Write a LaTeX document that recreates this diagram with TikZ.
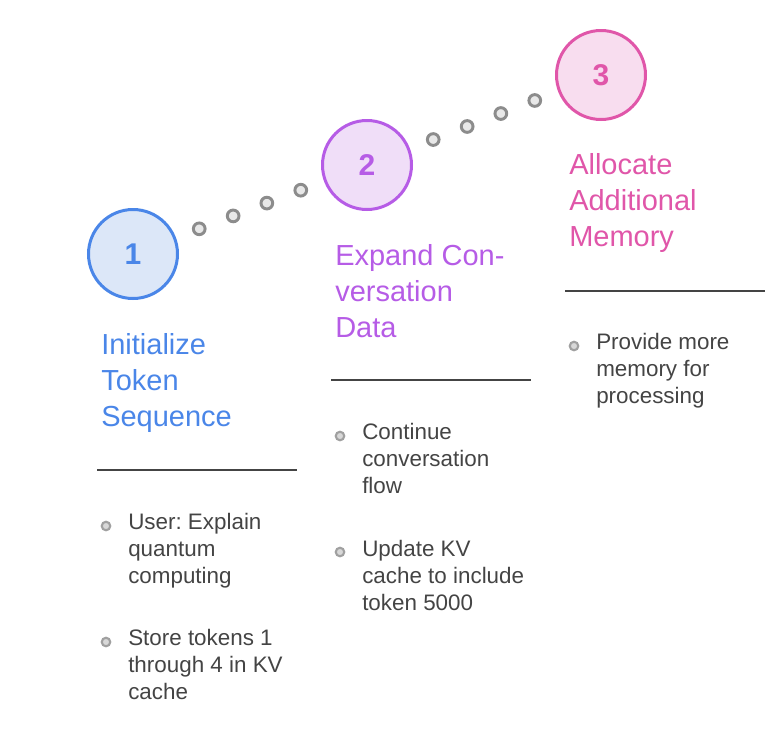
\documentclass[tikz,border=0pt]{standalone}
\usepackage{fontspec}
\setmainfont{Liberation Sans}
\usetikzlibrary{calc}
\frenchspacing
\definecolor{cblue}{HTML}{4A86E8}
\definecolor{cbluef}{HTML}{DCE7F8}
\definecolor{cpurp}{HTML}{B65CE6}
\definecolor{cpurpf}{HTML}{F0DEF8}
\definecolor{cpink}{HTML}{E056A9}
\definecolor{cpinkf}{HTML}{F8DDEF}
\definecolor{ctext}{HTML}{444444}
\definecolor{cdot}{HTML}{8C8C8C}
\definecolor{cdotf}{HTML}{E8E8E8}
\definecolor{cbul}{HTML}{A0A0A0}
\definecolor{cbulf}{HTML}{D8D8D8}
\begin{document}
\begin{tikzpicture}[x=0.75pt,y=-0.75pt,
  stepcircle/.style={circle, draw=#1, fill=#1f, line width=2.25pt, minimum size=66.75pt, inner sep=0pt,
    text=#1, font=\fontsize{22.5pt}{26pt}\selectfont\bfseries},
  dotnode/.style={circle, draw=cdot, fill=cdotf, line width=2.2pt, minimum size=8.8pt, inner sep=0pt},
  bullet/.style={circle, draw=cbul, fill=cbulf, line width=1.6pt, minimum size=6.4pt, inner sep=0pt},
  sepline/.style={draw=ctext, line width=2.2pt},
  titletext/.style={anchor=base west, inner sep=0pt, align=left, text=#1,
    font=\fontsize{21.75pt}{27pt}\selectfont},
  itemtext/.style={anchor=base west, inner sep=0pt, align=left, text=ctext,
    font=\fontsize{16.8pt}{20.25pt}\selectfont}
]
\useasboundingbox (0,0) rectangle (778,740);

% step circles
\node[stepcircle=cblue] (c1) at (133,254) {1};
\node[stepcircle=cpurp] (c2) at (367,165) {2};
\node[stepcircle=cpink] (c3) at (601,75) {3};

% dotted connectors
\foreach \f [count=\i] in {0.283,0.428,0.572,0.717} {
  \node[dotnode] (da\i) at ($(c1)!\f!(c2)$) {};
  \node[dotnode] (db\i) at ($(c2)!\f!(c3)$) {};
}

% titles (anchored at the baseline of their last line)
\node[titletext=cblue] (t1) at (101,426) {Initialize\\Token\\Sequence};
\node[titletext=cpurp] (t2) at (335,337) {Expand Con-\\versation\\Data};
\node[titletext=cpink] (t3) at (569,246) {Allocate\\Additional\\Memory};

% separator lines
\coordinate (l1a) at (97,470); \coordinate (l1b) at (297,470);
\coordinate (l2a) at (331,380); \coordinate (l2b) at (531,380);
\coordinate (l3a) at (565,291); \coordinate (l3b) at (765,291);
\draw[sepline] (l1a) -- (l1b);
\draw[sepline] (l2a) -- (l2b);
\draw[sepline] (l3a) -- (l3b);

% column 1 items
\node[bullet] (p11) at (106,526) {};
\node[itemtext] (b11) at (128,583) {User: Explain\\quantum\\computing};
\node[bullet] (p12) at (106,642) {};
\node[itemtext] (b12) at (128,699) {Store tokens 1\\through 4 in KV\\cache};

% column 2 items
\node[bullet] (p21) at (340,436) {};
\node[itemtext] (b21) at (362,493) {Continue\\conversation\\flow};
\node[bullet] (p22) at (340,552) {};
\node[itemtext] (b22) at (362,610) {Update KV\\cache to include\\token 5000};

% column 3 items
\node[bullet] (p31) at (574,346) {};
\node[itemtext] (b31) at (596,403) {Provide more\\memory for\\processing};
\end{tikzpicture}
\end{document}
